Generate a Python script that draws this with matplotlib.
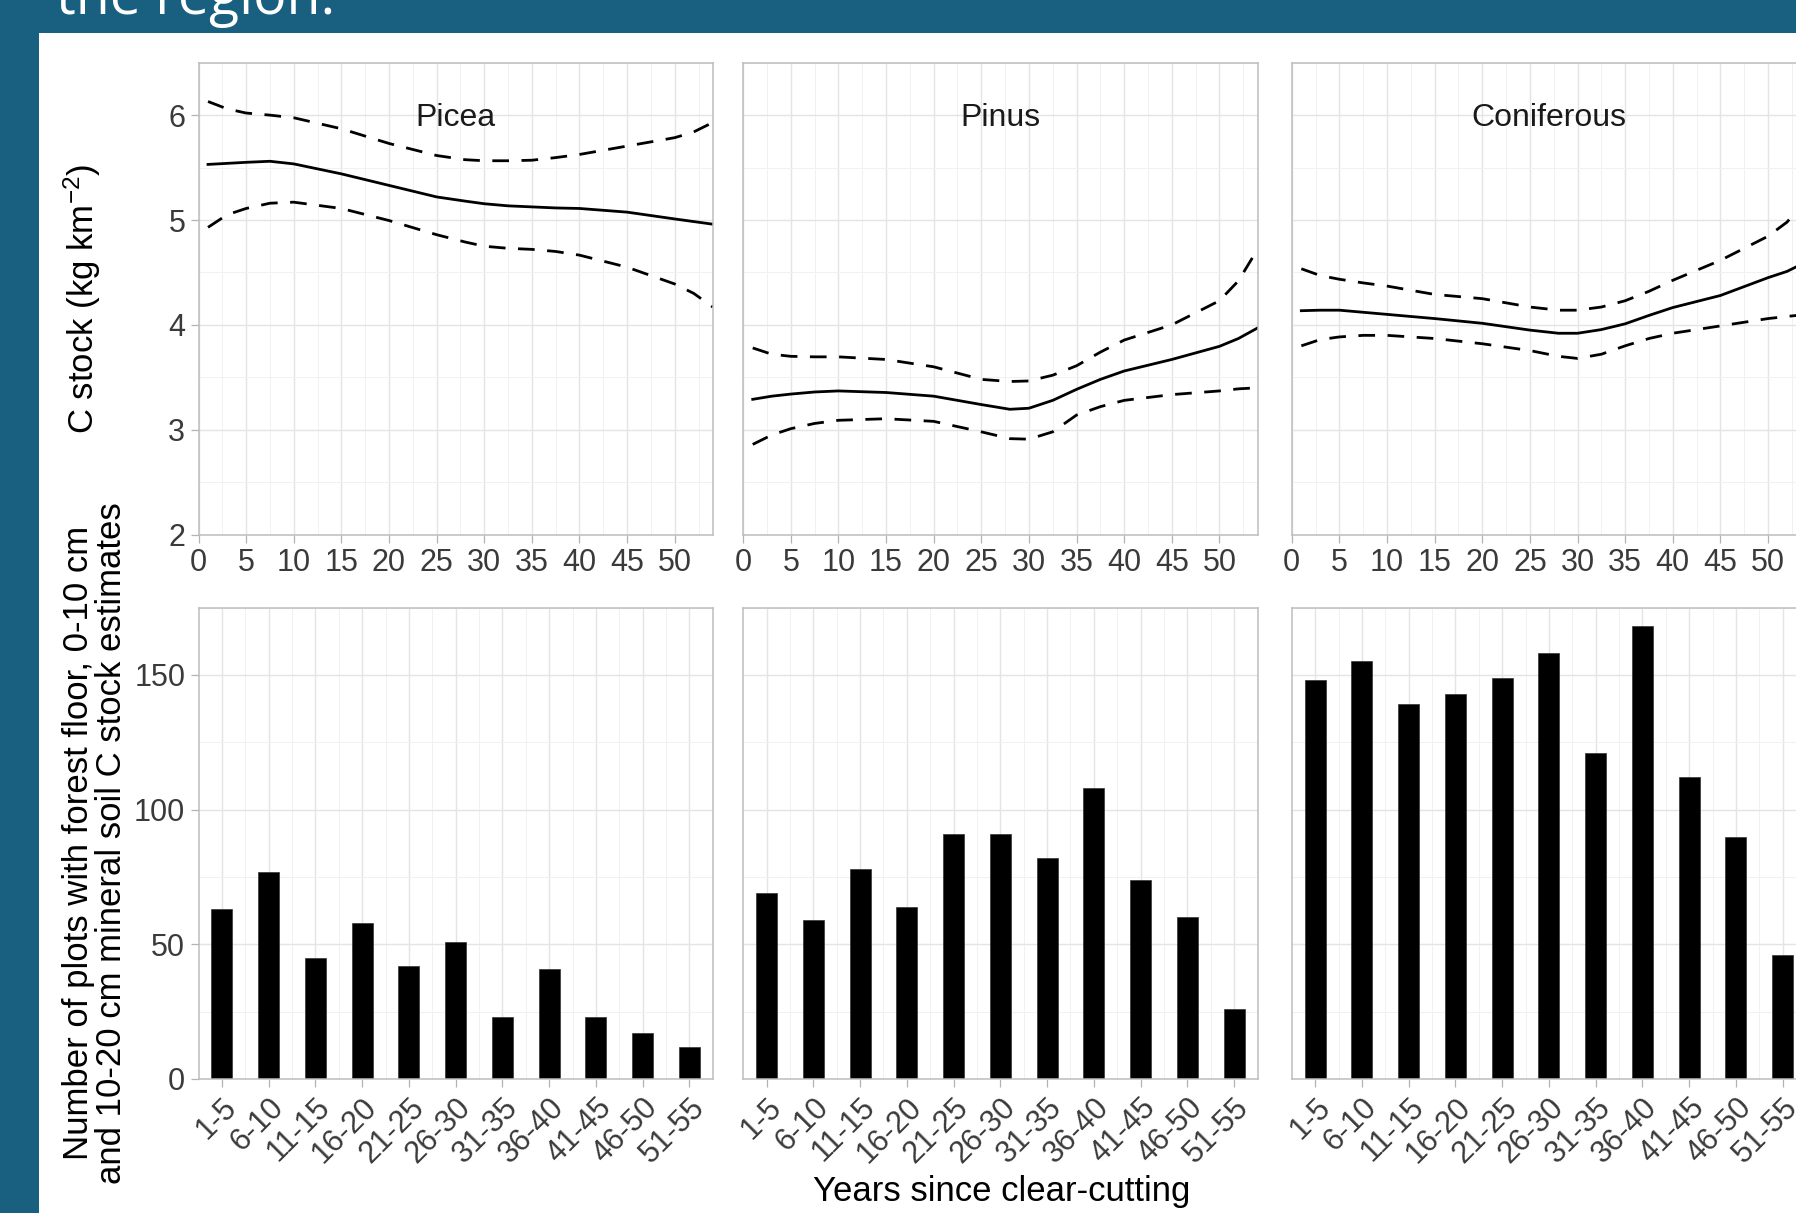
import numpy as np
import matplotlib
matplotlib.use('Agg')
import matplotlib.pyplot as plt
from matplotlib.patches import Rectangle
from matplotlib.ticker import MultipleLocator

plt.rcParams['font.family'] = ['Liberation Sans', 'DejaVu Sans']
plt.rcParams['mathtext.default'] = 'regular'

# ---- data ----
species = ['Picea', 'Pinus', 'Coniferous']

years = [1, 3, 5, 7.5, 10, 15, 20, 25, 28, 30, 32.5, 35, 37.5, 40, 45, 50, 52, 54]

picea_mean = [5.53, 5.54, 5.55, 5.56, 5.535, 5.44, 5.33, 5.22, 5.18, 5.155, 5.135, 5.125, 5.115, 5.11, 5.075, 5.01, 4.985, 4.96]
picea_upper = [6.13, 6.06, 6.02, 6.00, 5.975, 5.87, 5.73, 5.615, 5.575, 5.565, 5.565, 5.57, 5.595, 5.625, 5.705, 5.785, 5.84, 5.93]
picea_lower = [4.93, 5.05, 5.11, 5.16, 5.17, 5.11, 4.995, 4.86, 4.79, 4.75, 4.73, 4.72, 4.70, 4.665, 4.55, 4.39, 4.30, 4.17]

pinus_mean = [3.29, 3.32, 3.34, 3.36, 3.37, 3.355, 3.32, 3.24, 3.195, 3.205, 3.28, 3.385, 3.48, 3.56, 3.67, 3.795, 3.87, 3.97]
pinus_upper = [3.78, 3.72, 3.70, 3.695, 3.695, 3.67, 3.60, 3.48, 3.46, 3.465, 3.52, 3.61, 3.74, 3.855, 4.0, 4.23, 4.42, 4.72]
pinus_lower = [2.86, 2.95, 3.01, 3.06, 3.09, 3.105, 3.08, 2.98, 2.915, 2.91, 2.98, 3.14, 3.22, 3.28, 3.335, 3.37, 3.39, 3.40]

conif_mean = [4.135, 4.14, 4.14, 4.12, 4.10, 4.06, 4.015, 3.95, 3.92, 3.92, 3.955, 4.01, 4.09, 4.165, 4.28, 4.45, 4.51, 4.60]
conif_upper = [4.535, 4.47, 4.435, 4.40, 4.37, 4.29, 4.25, 4.17, 4.14, 4.14, 4.17, 4.23, 4.32, 4.425, 4.615, 4.845, 4.98, 5.2]
conif_lower = [3.80, 3.86, 3.885, 3.90, 3.90, 3.87, 3.82, 3.755, 3.70, 3.68, 3.72, 3.80, 3.87, 3.92, 3.99, 4.06, 4.08, 4.10]

age_classes = ['1-5', '6-10', '11-15', '16-20', '21-25', '26-30', '31-35', '36-40', '41-45', '46-50', '51-55']
picea_counts = [63, 77, 45, 58, 42, 51, 23, 41, 23, 17, 12]
pinus_counts = [69, 59, 78, 64, 91, 91, 82, 108, 74, 60, 26]
conif_counts = [148, 155, 139, 143, 149, 158, 121, 168, 112, 90, 46]

curves = [(picea_mean, picea_upper, picea_lower),
          (pinus_mean, pinus_upper, pinus_lower),
          (conif_mean, conif_upper, conif_lower)]
counts = [picea_counts, pinus_counts, conif_counts]

# ---- figure / slide frame ----
W, H = 1796, 1213
fig = plt.figure(figsize=(W / 100., H / 100.), dpi=100)
fig.patch.set_facecolor('#185F80')
fig.add_artist(Rectangle((39. / W, 0), 1 - 39. / W, 1 - 33. / H, transform=fig.transFigure,
                         facecolor='white', edgecolor='none', zorder=-5))
fig.text(56. / W, 1 - 14. / H, 'the region.', color='white', fontsize=40,
         family=['Open Sans', 'DejaVu Sans'], ha='left', va='baseline')

border = '#BDBDBD'
grid_major = '#E4E4E4'
grid_minor = '#F1F1F1'
tick_col = '#3A3A3A'

lefts = [198.5, 743.2, 1291.8]
pw = 514.3


def px_axes(left, top, bottom):
    return fig.add_axes([left / W, 1 - bottom / H, pw / W, (bottom - top) / H])


def style(ax, show_y):
    for sp in ax.spines.values():
        sp.set_color(border)
        sp.set_linewidth(1.1)
    ax.grid(which='major', color=grid_major, lw=1.0)
    ax.grid(which='minor', color=grid_minor, lw=0.7)
    ax.set_axisbelow(True)
    ax.tick_params(which='major', length=5.5, width=0.9, color='#B3B3B3',
                   labelsize=22, labelcolor=tick_col, pad=4)
    ax.tick_params(which='minor', length=0)
    if not show_y:
        ax.tick_params(axis='y', which='both', left=False, labelleft=False)


# ---- top row: C stock curves ----
for i, name in enumerate(species):
    ax = px_axes(lefts[i], 62.7, 534.6)
    mean, upper, lower = curves[i]
    ax.plot(years, mean, color='black', lw=2.0)
    ax.plot(years, upper, color='black', lw=2.0, dashes=(6, 4.5))
    ax.plot(years, lower, color='black', lw=2.0, dashes=(6, 4.5))
    ax.set_xlim(0, 54)
    ax.set_ylim(2, 6.5)
    ax.xaxis.set_major_locator(MultipleLocator(5))
    ax.xaxis.set_minor_locator(MultipleLocator(2.5))
    ax.yaxis.set_major_locator(MultipleLocator(1))
    ax.yaxis.set_minor_locator(MultipleLocator(0.5))
    style(ax, i == 0)
    ax.text(27, 5.97, name, ha='center', va='center', fontsize=23, color='#1A1A1A')

# ---- bottom row: number of plots ----
pos = np.arange(len(age_classes))
for i, name in enumerate(species):
    ax = px_axes(lefts[i], 607.5, 1079.0)
    ax.bar(pos, counts[i], width=0.45, color='black', edgecolor='#333333', lw=0.5)
    ax.set_xlim(-0.5, 10.5)
    ax.set_ylim(0, 175)
    ax.set_xticks(pos)
    ax.set_xticklabels(age_classes, rotation=45, ha='right', va='top', rotation_mode='anchor')
    ax.set_xticks(pos[:-1] + 0.5, minor=True)
    ax.yaxis.set_major_locator(MultipleLocator(50))
    ax.yaxis.set_minor_locator(MultipleLocator(25))
    style(ax, i == 0)

# ---- axis titles ----
fig.text(82. / W, 1 - 298.6 / H, 'C stock (kg km$^{-2}$)', rotation=90,
         ha='center', va='center', fontsize=25, color='black')
fig.text(95.5 / W, 1 - 843. / H,
         'Number of plots with forest floor, 0-10 cm\nand 10-20 cm mineral soil C stock estimates',
         rotation=90, ha='center', va='center', multialignment='center',
         linespacing=1.0, fontsize=25, color='black')
fig.text(1002. / W, 1 - 1192. / H, 'Years since clear-cutting',
         ha='center', va='center', fontsize=25, color='black')

fig.savefig('out.png', dpi=100, facecolor=fig.get_facecolor())
